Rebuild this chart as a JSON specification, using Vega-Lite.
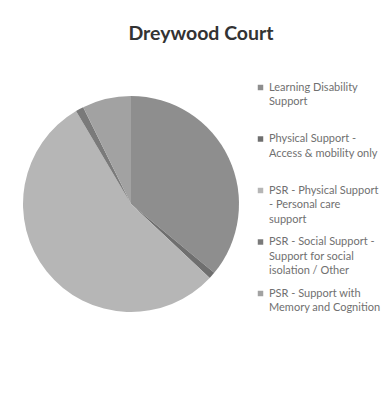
{
  "$schema": "https://vega.github.io/schema/vega-lite/v6.json",
  "autosize": "none",
  "width": 248,
  "height": 216,
  "padding": {"left": 7, "top": 96, "right": 135, "bottom": 82},
  "background": "white",
  "title": {
    "text": "Dreywood Court",
    "font": "Lato",
    "fontSize": 19.5,
    "fontWeight": "bold",
    "color": "#333333",
    "anchor": "middle",
    "dx": 70,
    "offset": 38
  },
  "data": {
    "values": [
      {"category": "Learning Disability Support", "value": 36, "order": 1},
      {"category": "Physical Support Access & mobility only", "value": 1, "order": 2},
      {"category": "PSR - Physical Support - Personal care support", "value": 54.5, "order": 3},
      {"category": "PSR - Social Support - Support for social isolation / Other", "value": 1.2, "order": 4},
      {"category": "PSR - Support with Memory and Cognition", "value": 7.3, "order": 5}
    ]
  },
  "mark": {"type": "arc", "outerRadius": 108},
  "encoding": {
    "theta": {"field": "value", "type": "quantitative", "stack": true},
    "order": {"field": "order", "type": "quantitative"},
    "color": {
      "field": "category",
      "type": "nominal",
      "sort": null,
      "scale": {
        "domain": [
          "Learning Disability Support",
          "Physical Support Access & mobility only",
          "PSR - Physical Support - Personal care support",
          "PSR - Social Support - Support for social isolation / Other",
          "PSR - Support with Memory and Cognition"
        ],
        "range": ["#8e8e8e", "#6f6f6f", "#b6b6b6", "#7a7a7a", "#a2a2a2"]
      },
      "legend": {
        "orient": "none",
        "legendX": 248,
        "legendY": -14,
        "title": null,
        "symbolType": "square",
        "symbolSize": 30,
        "symbolStrokeWidth": 0,
        "labelFont": "Lato",
        "labelFontSize": 11,
        "labelColor": "#707070",
        "labelLimit": 200,
        "labelOffset": 3,
        "rowPadding": 10.5,
        "labelExpr": "datum.label == 'Learning Disability Support' ? ['Learning Disability', 'Support', ''] : datum.label == 'Physical Support Access & mobility only' ? ['Physical Support -', 'Access & mobility only', ''] : datum.label == 'PSR - Physical Support - Personal care support' ? ['PSR - Physical Support', '- Personal care', 'support'] : datum.label == 'PSR - Social Support - Support for social isolation / Other' ? ['PSR - Social Support -', 'Support for social', 'isolation / Other'] : ['PSR - Support with', 'Memory and Cognition', '']"
      }
    }
  },
  "config": {"view": {"stroke": null}, "style": {"guide-label": {"lineHeight": 14.5}}}
}
